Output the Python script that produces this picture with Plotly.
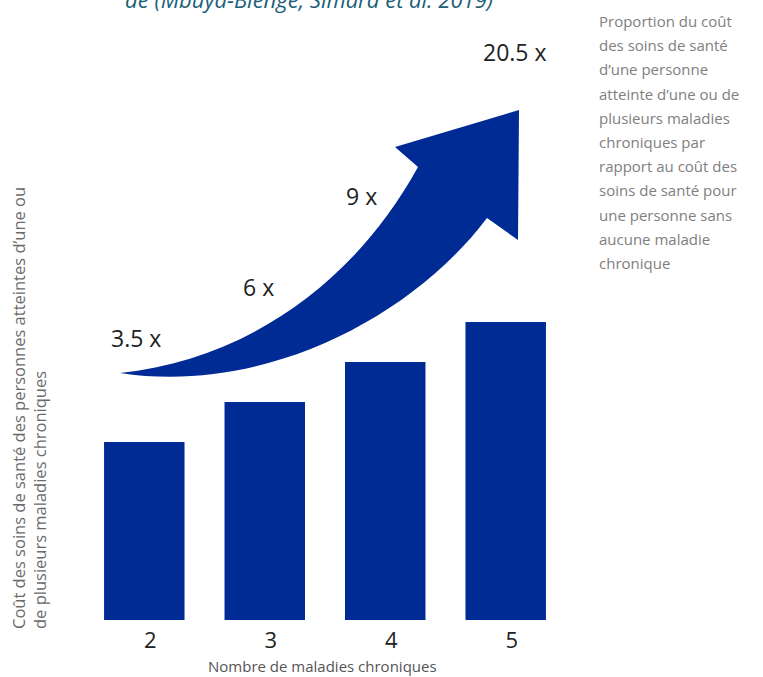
import plotly.graph_objects as go

# ---- data ----
categories = [2, 3, 4, 5]
bar_values = [1.78, 2.18, 2.58, 2.98]          # illustrative bar heights
multiplier_labels = ["3.5 x", "6 x", "9 x", "20.5 x"]

title_text = "de (Mbuya-Bienge, Simard et al. 2019)"
side_lines = ["Proportion du coût", "des soins de santé", "d’une personne",
              "atteinte d’une ou de", "plusieurs maladies", "chroniques par",
              "rapport au coût des", "soins de santé pour", "une personne sans",
              "aucune maladie", "chronique"]
y_title = "Coût des soins de santé des personnes atteintes d’une ou<br>de plusieurs maladies chroniques"
x_title = "Nombre de maladies chroniques"

BLUE = "#002b95"
FONT = "Open Sans"

# layout geometry
W, H = 763, 677
ML, MR, MT, MB = 72, 185, 20, 57
XR = [1.4, 5.6]
YR = [0, 6.0]
pw, ph = W - ML - MR, H - MT - MB

def px2d(px, py):
    xd = XR[0] + (px - ML) / pw * (XR[1] - XR[0])
    yd = YR[0] + (H - MB - py) / ph * (YR[1] - YR[0])
    return xd, yd

def px2paper(px, py):
    return (px - ML) / pw, (H - MB - py) / ph

# decorative arrow outline (pixel guide points converted to data coords)
arrow_pts = [
    ("M", [(120, 373)]),
    ("C", [(240, 360), (350, 290), (418, 167)]),
    ("L", [(395, 147)]),
    ("L", [(519, 110)]),
    ("L", [(518, 240)]),
    ("L", [(487, 218)]),
    ("C", [(410, 320), (260, 395), (120, 373)]),
]
path = ""
for cmd, pts in arrow_pts:
    path += cmd + " " + " ".join("%.4f,%.4f" % px2d(*p) for p in pts) + " "
path += "Z"

label_px = [(136, 338), (258, 287), (361, 196), (515, 52)]

fig = go.Figure()
fig.add_trace(go.Bar(
    x=categories, y=bar_values, width=0.668,
    marker=dict(color=BLUE, line=dict(width=0)),
    hoverinfo="skip",
))

fig.add_shape(type="path", path=path, xref="x", yref="y",
              fillcolor=BLUE, line=dict(width=0), layer="above")

annotations = []
for lab, (px, py) in zip(multiplier_labels, label_px):
    xd, yd = px2d(px, py)
    annotations.append(dict(x=xd, y=yd, xref="x", yref="y", text=lab, showarrow=False,
                            font=dict(family=FONT, size=23, color="#222222")))

annotations.append(dict(x=(309 - ML) / pw, y=1, xref="paper", yref="paper", yanchor="bottom",
                        yshift=4, text="<i>" + title_text + "</i>", showarrow=False,
                        font=dict(family=FONT, size=22, color="#1c5f78")))

for i, line in enumerate(side_lines):
    xp, yp = px2paper(597, 21 + 24.2 * i)
    annotations.append(dict(x=xp, y=yp, xref="paper", yref="paper",
                            xanchor="left", yanchor="middle", align="left", text=line,
                            showarrow=False, font=dict(family=FONT, size=15, color="#808080")))

xp, yp = px2paper(29, 631)
annotations.append(dict(x=xp, y=yp, xref="paper", yref="paper",
                        xanchor="center", yanchor="bottom", align="left", textangle=-90,
                        text=y_title, showarrow=False,
                        font=dict(family=FONT, size=16.5, color="#6a6a6a")))

xp, yp = px2paper(322, H)
annotations.append(dict(x=xp, y=yp, xref="paper", yref="paper",
                        xanchor="center", yanchor="bottom", text=x_title, showarrow=False,
                        borderpad=0,
                        font=dict(family=FONT, size=15, color="#555555")))

fig.update_layout(
    width=W, height=H,
    margin=dict(l=ML, r=MR, t=MT, b=MB),
    paper_bgcolor="white", plot_bgcolor="white",
    showlegend=False,
    annotations=annotations,
    font=dict(family=FONT),
    xaxis=dict(range=XR, tickvals=categories, ticktext=[str(c) for c in categories],
               showgrid=False, zeroline=False, showline=False, ticks="",
               ticklabelstandoff=5, ticklabelshift=6,
               tickfont=dict(family=FONT, size=22, color="#222222")),
    yaxis=dict(range=YR, showgrid=False, zeroline=False, showline=False,
               showticklabels=False, ticks=""),
)

fig.write_html("out.html")
